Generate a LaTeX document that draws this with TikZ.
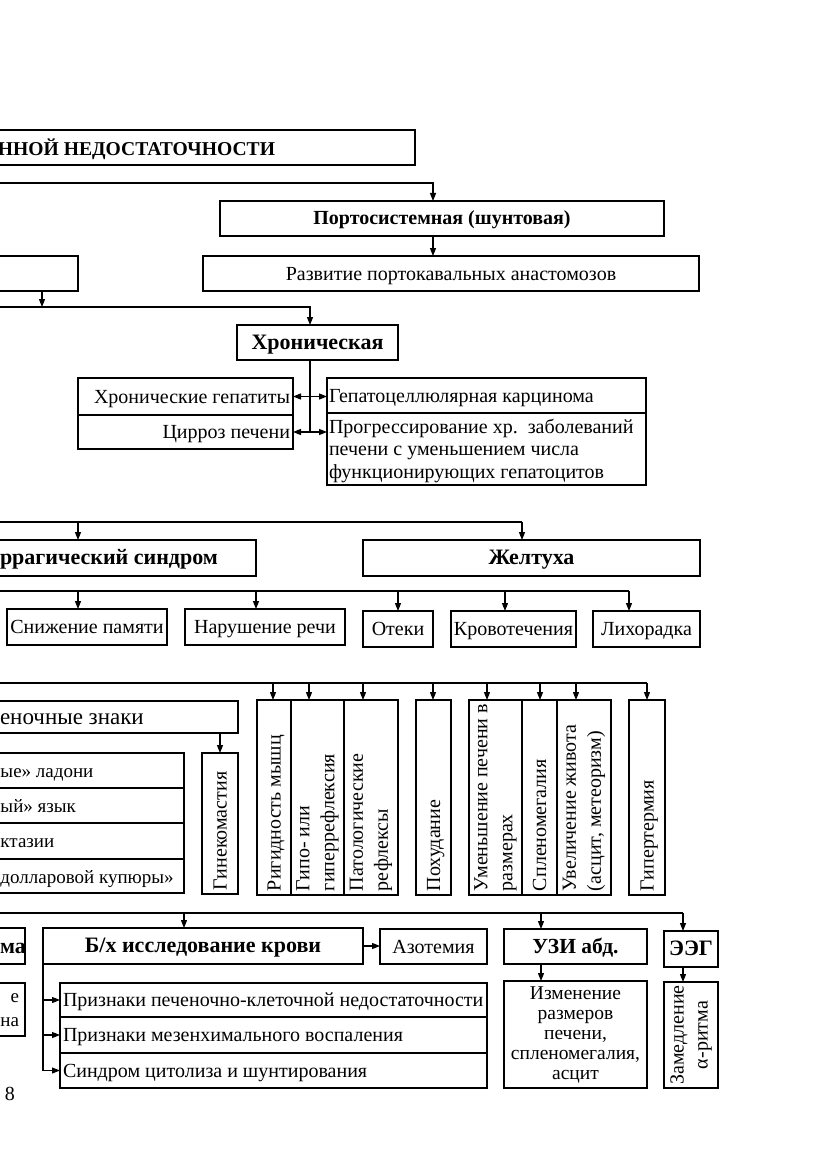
\documentclass[tikz,border=0pt]{standalone}
\usepackage{fontspec}
\setmainfont{Liberation Serif}
\usetikzlibrary{arrows.meta}
\newcommand\BX[7]{%
  \node[box, minimum width={(#4)-(#2)}, minimum height={(#5)-(#3)}, #6] (#1) at ({((#2)+(#4))/2},{((#3)+(#5))/2}) {#7};}
\newcommand\VB[7]{%
  \node[box, rotate=90, minimum width={(#5)-(#3)}, minimum height={(#4)-(#2)}, #6] (#1) at ({((#2)+(#4))/2},{((#3)+(#5))/2}) {#7};}
\tikzset{
  box/.style={draw, line width=1.1pt, inner sep=0pt, outer sep=0pt, font=\fontsize{20}{23}\selectfont},
  one/.style={text height=17pt, text depth=4pt},
  arr/.style={-{Triangle[length=8pt,width=6pt]}, line width=1.1pt},
  dbl/.style={{Triangle[length=8pt,width=6pt]}-{Triangle[length=8pt,width=6pt]}, line width=1.1pt},
  ln/.style={line width=1.1pt},
  nf/.style={font=\fontsize{20}{23}\selectfont},
  vt/.style={font=\fontsize{20}{25}\selectfont},
  bfs/.style={font=\fontsize{20}{24}\selectfont\bfseries},
  bfl/.style={font=\fontsize{22}{25}\selectfont\bfseries},
  txt/.style={inner sep=0pt, outer sep=0pt},
}
\begin{document}
\begin{tikzpicture}[x=1pt,y=-1pt]
\useasboundingbox (0,0) rectangle (831,1174);
\clip (0,0) rectangle (831,1174);
% ---------- top
\BX{T0}{-5}{130}{415}{165}{}{}
\node[txt, font=\fontsize{19.6}{23}\selectfont\bfseries, anchor=west, one] (T0t) at (-2,149) {ННОЙ НЕДОСТАТОЧНОСТИ};
\coordinate (a0) at (0,183);
\coordinate (a1) at (433,183);
\BX{P}{220}{201}{664}{236}{bfs, one}{Портосистемная (шунтовая)}
\BX{R}{203}{256}{699}{291}{one}{Развитие портокавальных анастомозов}
\BX{L}{-5}{256}{78}{291}{}{}
\draw[arr] (a0) -- (a1) -- (a1 |- P.north);
\draw[arr] (a1 |- P.south) -- (a1 |- R.north);
\coordinate (b0) at (0,307);
\coordinate (b1) at (42,307);
\coordinate (b2) at (310,307);
\BX{Hr}{237}{325}{398}{360}{bfl, one}{Хроническая}
\draw[arr] (b1 |- L.south) -- (b1);
\draw[arr] (b0) -- (b2) -- (b2 |- Hr.north);
\BX{HG}{78}{378}{293}{415}{text width=209pt, align=flush right, one}{Хронические гепатиты}
\BX{CP}{78}{415}{293}{449}{text width=209pt, align=flush right, one}{Цирроз печени}
\BX{GK}{327}{378}{646}{413}{text width=315pt, align=flush left, one}{Гепатоцеллюлярная карцинома}
\BX{PR}{327}{413}{646}{485}{}{}
\node[txt, font=\fontsize{20}{22.5}\selectfont, anchor=north west, text width=315pt, align=flush left] (PRt) at (329,419) {Прогрессирование хр.\ \ заболеваний\\печени с уменьшением числа\\функционирующих гепатоцитов};
\coordinate (c1) at (310,432);
\draw[ln] (b2 |- Hr.south) -- (c1);
\draw[dbl] (HG.east) -- (HG.east -| GK.west);
\draw[dbl] (CP.east) -- (CP.east -| PR.west);
% ---------- syndromes
\coordinate (d0) at (0,522);
\coordinate (d1) at (522,522);
\coordinate (d2) at (78,522);
\BX{G}{-5}{540}{256}{576}{}{}
\node[txt, bfl, one, anchor=west] (Gt) at (0,558) {ррагический синдром};
\BX{ZH}{363}{540}{700}{576}{bfl, one}{Желтуха}
\draw[ln] (d0) -- (d1);
\draw[arr] (d2) -- (d2 |- G.north);
\draw[arr] (d1) -- (d1 |- ZH.north);
\coordinate (e0) at (0,591);
\coordinate (e1) at (78,591);
\coordinate (e2) at (256,591);
\coordinate (e3) at (398,591);
\coordinate (e4) at (505,591);
\coordinate (e5) at (629,591);
\BX{SP}{7}{609}{167}{645}{one}{Снижение памяти}
\BX{NR}{185}{609}{345}{645}{one}{Нарушение речи}
\BX{OT}{363}{611}{433}{647}{one}{Отеки}
\BX{KR}{451}{611}{576}{647}{one}{Кровотечения}
\BX{LH}{593}{611}{700}{647}{one}{Лихорадка}
\draw[ln] (e0) -- (e5);
\draw[arr] (e1) -- (e1 |- SP.north);
\draw[arr] (e2) -- (e2 |- NR.north);
\draw[arr] (e3) -- (e3 |- OT.north);
\draw[arr] (e4) -- (e4 |- KR.north);
\draw[arr] (e5) -- (e5 |- LH.north);
% ---------- signs
\BX{Z}{-5}{701}{238}{733}{}{}
\node[txt, font=\fontsize{23}{26}\selectfont, anchor=west, text height=18pt, text depth=5pt] (Zt) at (0,718) {еночные знаки};
\BX{Z1}{-5}{753}{184}{788}{}{}
\BX{Z2}{-5}{788}{184}{823}{}{}
\BX{Z3}{-5}{823}{184}{859}{}{}
\BX{Z4}{-5}{859}{184}{893}{}{}
\draw[line width=2pt] (Z1.south west) -- (Z1.south east);
\draw[line width=2pt] (Z2.south west) -- (Z2.south east);
\draw[line width=2pt] (Z3.south west) -- (Z3.south east);
\node[txt, font=\fontsize{19}{23}\selectfont, one, anchor=west] (Z1t) at (0.5,771) {ые» ладони};
\node[txt, font=\fontsize{19}{23}\selectfont, one, anchor=west] (Z2t) at (0.5,806) {ый» язык};
\node[txt, font=\fontsize{19}{23}\selectfont, one, anchor=west] (Z3t) at (0.5,841) {ктазии};
\node[txt, font=\fontsize{19}{23}\selectfont, one, anchor=west] (Z4t) at (0.5,877) {долларовой купюры»};
\VB{GN}{202}{753}{238}{894}{text width=133pt, align=flush left, one}{Гинекомастия}
\coordinate (zz) at (220,733);
\draw[arr] (zz) -- (zz |- GN.east);
\VB{RM}{257}{700}{291}{895}{text width=187pt, align=flush left, one}{Ригидность мышц}
\VB{GG}{291}{700}{344}{895}{vt, text width=187pt, align=flush left}{Гипо- или\\гиперрефлексия}
\VB{PT}{344}{700}{398}{895}{vt, text width=187pt, align=flush left}{Патологические\\рефлексы}
\VB{PX}{416}{700}{451}{895}{text width=187pt, align=flush left, one}{Похудание}
\VB{UP}{469}{700}{522}{895}{vt, text width=187pt, align=flush left}{Уменьшение печени в\\размерах}
\VB{SM}{522}{700}{557}{895}{text width=187pt, align=flush left, one}{Спленомегалия}
\VB{UZ}{557}{700}{611}{895}{vt, text width=187pt, align=flush left}{Увеличение живота\\(асцит, метеоризм)}
\VB{GT}{629}{700}{665}{895}{text width=187pt, align=flush left, one}{Гипертермия}
\coordinate (f0) at (0,683);
\coordinate (f1) at (273,683);
\coordinate (f2) at (309,683);
\coordinate (f3) at (363,683);
\coordinate (f4) at (433,683);
\coordinate (f5) at (487,683);
\coordinate (f6) at (540,683);
\coordinate (f7) at (576,683);
\coordinate (f8) at (647,683);
\draw[ln] (f0) -- (f8);
\draw[arr] (f1) -- (f1 |- RM.east);
\draw[arr] (f2) -- (f2 |- GG.east);
\draw[arr] (f3) -- (f3 |- PT.east);
\draw[arr] (f4) -- (f4 |- PX.east);
\draw[arr] (f5) -- (f5 |- UP.east);
\draw[arr] (f6) -- (f6 |- SM.east);
\draw[arr] (f7) -- (f7 |- UZ.east);
\draw[arr] (f8) -- (f8 |- GT.east);
% ---------- diagnostics
\coordinate (g0) at (0,913);
\coordinate (g1) at (184,913);
\coordinate (g2) at (541,913);
\coordinate (g3) at (683,913);
\BX{MA}{-5}{928}{25}{964}{}{}
\node[txt, bfl, one, anchor=west] (MAt) at (0,947) {ма};
\BX{BX}{43}{928}{363}{964}{bfl, one}{Б/х исследование крови}
\BX{AZ}{380}{929}{487}{964}{one}{Азотемия}
\BX{UZI}{504}{929}{647}{964}{font=\fontsize{21.5}{25}\selectfont\bfseries, one}{УЗИ абд.}
\BX{EEG}{664}{931}{718}{967}{bfl, one}{ЭЭГ}
\draw[ln] (g0) -- (g3);
\draw[arr] (g1) -- (g1 |- BX.north);
\draw[arr] (g2) -- (g2 |- UZI.north);
\draw[arr] (g3) -- (g3 |- EEG.north);
\draw[arr] (BX.east) -- (BX.east -| AZ.west);
\BX{EN}{-5}{983}{25}{1036}{}{}
\node[txt, font=\fontsize{19}{24}\selectfont, anchor=west, align=flush right] (ENt) at (0.5,1010) {е\\на};
\BX{S1}{60}{983}{487}{1017}{text width=421pt, align=flush left, one}{Признаки печеночно-клеточной недостаточности}
\BX{S2}{60}{1017}{487}{1053}{text width=421pt, align=flush left, one}{Признаки мезенхимального воспаления}
\BX{S3}{60}{1053}{487}{1088}{text width=421pt, align=flush left, one}{Синдром цитолиза и шунтирования}
\draw[ln] (BX.south west) -- (BX.south west |- S3.west);
\draw[arr] (BX.south west |- S1.west) -- (S1.west);
\draw[arr] (BX.south west |- S2.west) -- (S2.west);
\draw[arr] (BX.south west |- S3.west) -- (S3.west);
\BX{IZ}{504}{981}{647}{1088}{align=center, font=\fontsize{19.5}{20}\selectfont}{Изменение\\размеров\\печени,\\спленомегалия,\\асцит}
\VB{ZM}{664}{982}{718}{1088}{align=center, font=\fontsize{20}{24}\selectfont}{Замедление\\α-ритма}
\draw[arr] (g2 |- UZI.south) -- (g2 |- IZ.north);
\draw[arr] (g3 |- EEG.south) -- (g3 |- ZM.east);
\node[txt, nf] (pg) at (10,1094) {8};
\end{tikzpicture}
\end{document}
